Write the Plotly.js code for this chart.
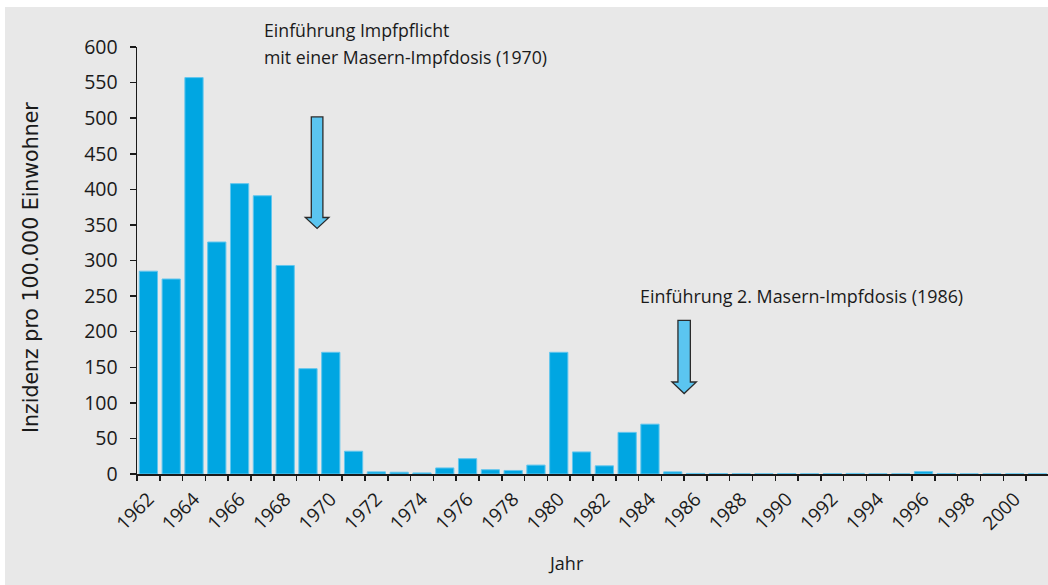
<!DOCTYPE html>
<html>
<head>
<meta charset="utf-8">
<script src="https://cdn.plot.ly/plotly-3.0.1.min.js"></script>
<style>
html,body{margin:0;padding:0;background:#ffffff;width:1048px;height:585px;overflow:hidden;}
#chart{position:absolute;left:5px;top:7px;width:1043px;height:578px;}
</style>
</head>
<body>
<div id="chart"></div>
<script>
const years = [1962,1963,1964,1965,1966,1967,1968,1969,1970,1971,1972,1973,1974,1975,1976,1977,1978,1979,1980,1981,1982,1983,1984,1985,1986,1987,1988,1989,1990,1991,1992,1993,1994,1995,1996,1997,1998,1999,2000,2001];
const incidence = [285,274,557,326,408,391,293,148,171,32,3,2.5,1.5,8.5,21.5,6,5,12.5,171,31,11.5,58.5,70,3,0.8,0.6,0.3,0.3,0.6,0.3,0.6,0.8,0.2,0.2,3.3,0.6,0.2,0.2,0.2,0.2];
const yTicks = [0,50,100,150,200,250,300,350,400,450,500,550,600];
const xTickYears = [1962,1964,1966,1968,1970,1972,1974,1976,1978,1980,1982,1984,1986,1988,1990,1992,1994,1996,1998,2000];
const annotationTexts = ["Einführung Impfpflicht","mit einer Masern-Impfdosis (1970)","Einführung 2. Masern-Impfdosis (1986)"];
const arrowYears = [1969.4, 1985.5];
const arrowTips = [345, 113];
const yTitle = "Inzidenz pro 100.000 Einwohner";
const xTitle = "Jahr";

const FONT = "Open Sans, Noto Sans, sans-serif";
const WIDE_FONT = "DejaVu Sans, Verdana, sans-serif";
const textColor = "#1a1a1a";

const trace = {
  type: "bar",
  x: years,
  y: incidence,
  marker: {color: "#00a6e2", line: {color: "#62c6ee", width: 1}},
  hoverinfo: "x+y"
};

function arrowPath(h, shaftHalf, headHalf, headH) {
  return `M ${-shaftHalf} ${h} L ${shaftHalf} ${h} L ${shaftHalf} ${headH} L ${headHalf} ${headH} L 0 0 L ${-headHalf} ${headH} L ${-shaftHalf} ${headH} Z`;
}

const arrowSpecs = [
  {h: 111.6, s: 5.8, hh: 11.8, hd: 11},
  {h: 73.3, s: 6.2, hh: 12.2, hd: 11.6}
];

const shapes = arrowSpecs.map((a, i) => ({
  type: "path",
  xref: "x", yref: "y",
  xsizemode: "pixel", ysizemode: "pixel",
  xanchor: arrowYears[i], yanchor: arrowTips[i],
  path: arrowPath(a.h, a.s, a.hh, a.hd),
  fillcolor: "#5bc5f0",
  line: {color: "#2b2b2b", width: 1.3},
  layer: "above"
}));

const layout = {
  width: 1043, height: 578,
  margin: {l: 132, r: 0, t: 40, b: 111, pad: 0},
  paper_bgcolor: "#e8e8e8",
  plot_bgcolor: "rgba(0,0,0,0)",
  bargap: 0.2,
  showlegend: false,
  font: {family: FONT, size: 18, color: textColor},
  xaxis: {
    type: "linear",
    range: [1961.5, 2001.46],
    tickmode: "array",
    tickvals: xTickYears,
    ticktext: xTickYears.map(String),
    tickangle: -45,
    ticks: "",
    showgrid: false,
    zeroline: false,
    showline: true,
    linecolor: "#1a1a1a",
    linewidth: 1.5,
    ticklabelstandoff: 5,
    tickfont: {family: FONT, size: 19, color: textColor},
    minor: {tick0: 1961.5, dtick: 1, ticks: "outside", ticklen: 5, tickwidth: 1.5, tickcolor: "#1a1a1a", showgrid: false}
  },
  yaxis: {
    range: [0, 600],
    tickmode: "array",
    tickvals: yTicks,
    ticktext: yTicks.map(String),
    ticks: "outside",
    ticklen: 6,
    tickwidth: 1.5,
    tickcolor: "#1a1a1a",
    showgrid: false,
    zeroline: false,
    showline: true,
    linecolor: "#1a1a1a",
    linewidth: 1.5,
    ticklabelstandoff: 8,
    tickfont: {family: FONT, size: 19.5, color: textColor}
  },
  shapes: shapes,
  annotations: [
    {text: annotationTexts[0], xref: "paper", yref: "paper", x: 0.1369, y: 1.0398, xanchor: "left", yanchor: "middle", showarrow: false, font: {family: FONT, size: 17.7, color: textColor}},
    {text: annotationTexts[1], xref: "paper", yref: "paper", x: 0.1369, y: 0.9766, xanchor: "left", yanchor: "middle", showarrow: false, font: {family: FONT, size: 17.7, color: textColor}},
    {text: annotationTexts[2], xref: "paper", yref: "paper", x: 0.5496, y: 0.4169, xanchor: "left", yanchor: "middle", showarrow: false, font: {family: FONT, size: 17.9, color: textColor}},
    {text: yTitle, xref: "paper", yref: "paper", x: -0.1156, y: 0.484, xanchor: "center", yanchor: "middle", textangle: -90, showarrow: false, font: {family: WIDE_FONT, size: 20.5, color: textColor}},
    {text: xTitle, xref: "paper", yref: "paper", x: 0.4706, y: -0.2084, xanchor: "center", yanchor: "middle", showarrow: false, font: {family: FONT, size: 18, color: textColor}}
  ]
};

Plotly.newPlot("chart", [trace], layout, {displayModeBar: false, staticPlot: true});
</script>
</body>
</html>
